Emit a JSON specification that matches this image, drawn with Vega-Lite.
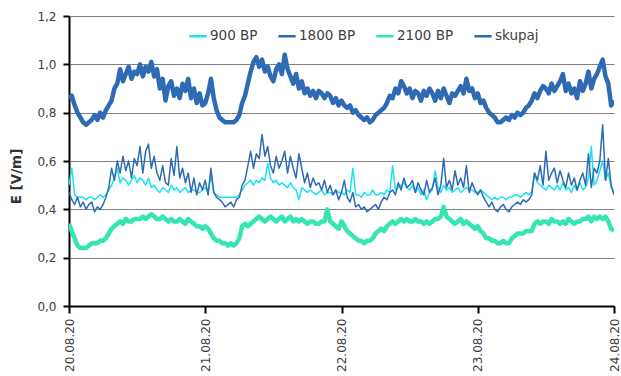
{
"$schema": "https://vega.github.io/schema/vega-lite/v6.json",
"width": 545, "height": 290,
"autosize": {"type": "none"},
"padding": {"left": 69, "top": 16, "right": 7, "bottom": 70},
"background": "white",
"config": {"view": {"stroke": null}, "font": "DejaVu Sans"},
"data": {"values": [
{"t":"2020-08-20T00:00","a":0.50,"b":0.47,"c":0.34,"s":0.86},{"t":"2020-08-20T00:30","a":0.57,"b":0.44,"c":0.31,"s":0.87},
{"t":"2020-08-20T01:00","a":0.46,"b":0.42,"c":0.28,"s":0.83},{"t":"2020-08-20T01:30","a":0.45,"b":0.45,"c":0.25,"s":0.80},
{"t":"2020-08-20T02:00","a":0.45,"b":0.41,"c":0.24,"s":0.78},{"t":"2020-08-20T02:30","a":0.45,"b":0.43,"c":0.24,"s":0.76},
{"t":"2020-08-20T03:00","a":0.44,"b":0.40,"c":0.24,"s":0.75},{"t":"2020-08-20T03:30","a":0.45,"b":0.42,"c":0.25,"s":0.76},
{"t":"2020-08-20T04:00","a":0.45,"b":0.43,"c":0.26,"s":0.77},{"t":"2020-08-20T04:30","a":0.44,"b":0.39,"c":0.26,"s":0.79},
{"t":"2020-08-20T05:00","a":0.45,"b":0.41,"c":0.26,"s":0.77},{"t":"2020-08-20T05:30","a":0.46,"b":0.40,"c":0.27,"s":0.80},
{"t":"2020-08-20T06:00","a":0.45,"b":0.42,"c":0.27,"s":0.78},{"t":"2020-08-20T06:30","a":0.46,"b":0.45,"c":0.28,"s":0.81},
{"t":"2020-08-20T07:00","a":0.48,"b":0.49,"c":0.30,"s":0.83},{"t":"2020-08-20T07:30","a":0.50,"b":0.57,"c":0.32,"s":0.85},
{"t":"2020-08-20T08:00","a":0.53,"b":0.52,"c":0.33,"s":0.90},{"t":"2020-08-20T08:30","a":0.57,"b":0.60,"c":0.34,"s":0.92},
{"t":"2020-08-20T09:00","a":0.51,"b":0.55,"c":0.35,"s":0.98},{"t":"2020-08-20T09:30","a":0.53,"b":0.62,"c":0.34,"s":0.93},
{"t":"2020-08-20T10:00","a":0.52,"b":0.56,"c":0.36,"s":0.96},{"t":"2020-08-20T10:30","a":0.50,"b":0.60,"c":0.35,"s":0.99},
{"t":"2020-08-20T11:00","a":0.52,"b":0.53,"c":0.35,"s":0.94},{"t":"2020-08-20T11:30","a":0.54,"b":0.61,"c":0.36,"s":0.97},
{"t":"2020-08-20T12:00","a":0.51,"b":0.58,"c":0.36,"s":0.96},{"t":"2020-08-20T12:30","a":0.53,"b":0.66,"c":0.36,"s":1.00},
{"t":"2020-08-20T13:00","a":0.52,"b":0.55,"c":0.37,"s":0.95},{"t":"2020-08-20T13:30","a":0.50,"b":0.64,"c":0.36,"s":0.99},
{"t":"2020-08-20T14:00","a":0.53,"b":0.67,"c":0.37,"s":0.97},{"t":"2020-08-20T14:30","a":0.49,"b":0.57,"c":0.38,"s":1.01},
{"t":"2020-08-20T15:00","a":0.50,"b":0.62,"c":0.37,"s":0.95},{"t":"2020-08-20T15:30","a":0.48,"b":0.55,"c":0.36,"s":0.98},
{"t":"2020-08-20T16:00","a":0.47,"b":0.52,"c":0.36,"s":0.90},{"t":"2020-08-20T16:30","a":0.49,"b":0.58,"c":0.37,"s":0.94},
{"t":"2020-08-20T17:00","a":0.48,"b":0.51,"c":0.36,"s":0.85},{"t":"2020-08-20T17:30","a":0.47,"b":0.50,"c":0.35,"s":0.91},
{"t":"2020-08-20T18:00","a":0.50,"b":0.61,"c":0.36,"s":0.93},{"t":"2020-08-20T18:30","a":0.48,"b":0.54,"c":0.35,"s":0.87},
{"t":"2020-08-20T19:00","a":0.49,"b":0.66,"c":0.35,"s":0.90},{"t":"2020-08-20T19:30","a":0.47,"b":0.53,"c":0.36,"s":0.86},
{"t":"2020-08-20T20:00","a":0.48,"b":0.57,"c":0.35,"s":0.92},{"t":"2020-08-20T20:30","a":0.49,"b":0.51,"c":0.34,"s":0.89},
{"t":"2020-08-20T21:00","a":0.47,"b":0.55,"c":0.36,"s":0.94},{"t":"2020-08-20T21:30","a":0.48,"b":0.47,"c":0.35,"s":0.86},
{"t":"2020-08-20T22:00","a":0.48,"b":0.53,"c":0.34,"s":0.90},{"t":"2020-08-20T22:30","a":0.47,"b":0.46,"c":0.33,"s":0.84},
{"t":"2020-08-20T23:00","a":0.47,"b":0.51,"c":0.33,"s":0.88},{"t":"2020-08-20T23:30","a":0.48,"b":0.48,"c":0.32,"s":0.83},
{"t":"2020-08-21T00:00","a":0.49,"b":0.52,"c":0.33,"s":0.84},{"t":"2020-08-21T00:30","a":0.47,"b":0.46,"c":0.32,"s":0.88},
{"t":"2020-08-21T01:00","a":0.54,"b":0.57,"c":0.30,"s":0.94},{"t":"2020-08-21T01:30","a":0.47,"b":0.47,"c":0.28,"s":0.86},
{"t":"2020-08-21T02:00","a":0.46,"b":0.45,"c":0.27,"s":0.81},{"t":"2020-08-21T02:30","a":0.45,"b":0.44,"c":0.27,"s":0.78},
{"t":"2020-08-21T03:00","a":0.45,"b":0.43,"c":0.26,"s":0.77},{"t":"2020-08-21T03:30","a":0.45,"b":0.41,"c":0.26,"s":0.76},
{"t":"2020-08-21T04:00","a":0.45,"b":0.42,"c":0.25,"s":0.76},{"t":"2020-08-21T04:30","a":0.45,"b":0.43,"c":0.26,"s":0.76},
{"t":"2020-08-21T05:00","a":0.45,"b":0.41,"c":0.25,"s":0.76},{"t":"2020-08-21T05:30","a":0.45,"b":0.44,"c":0.26,"s":0.77},
{"t":"2020-08-21T06:00","a":0.46,"b":0.45,"c":0.28,"s":0.79},{"t":"2020-08-21T06:30","a":0.48,"b":0.50,"c":0.33,"s":0.84},
{"t":"2020-08-21T07:00","a":0.50,"b":0.52,"c":0.34,"s":0.87},{"t":"2020-08-21T07:30","a":0.51,"b":0.58,"c":0.33,"s":0.92},
{"t":"2020-08-21T08:00","a":0.52,"b":0.64,"c":0.34,"s":0.97},{"t":"2020-08-21T08:30","a":0.50,"b":0.57,"c":0.35,"s":1.01},
{"t":"2020-08-21T09:00","a":0.52,"b":0.63,"c":0.36,"s":1.03},{"t":"2020-08-21T09:30","a":0.51,"b":0.61,"c":0.37,"s":0.99},
{"t":"2020-08-21T10:00","a":0.53,"b":0.71,"c":0.36,"s":1.02},{"t":"2020-08-21T10:30","a":0.52,"b":0.62,"c":0.35,"s":0.97},
{"t":"2020-08-21T11:00","a":0.59,"b":0.66,"c":0.36,"s":0.99},{"t":"2020-08-21T11:30","a":0.53,"b":0.58,"c":0.37,"s":0.95},
{"t":"2020-08-21T12:00","a":0.51,"b":0.55,"c":0.36,"s":0.93},{"t":"2020-08-21T12:30","a":0.52,"b":0.62,"c":0.35,"s":0.98},
{"t":"2020-08-21T13:00","a":0.50,"b":0.57,"c":0.36,"s":1.00},{"t":"2020-08-21T13:30","a":0.51,"b":0.60,"c":0.37,"s":0.96},
{"t":"2020-08-21T14:00","a":0.50,"b":0.64,"c":0.35,"s":1.04},{"t":"2020-08-21T14:30","a":0.49,"b":0.55,"c":0.36,"s":0.98},
{"t":"2020-08-21T15:00","a":0.51,"b":0.62,"c":0.37,"s":0.95},{"t":"2020-08-21T15:30","a":0.49,"b":0.57,"c":0.35,"s":0.92},
{"t":"2020-08-21T16:00","a":0.48,"b":0.53,"c":0.36,"s":0.96},{"t":"2020-08-21T16:30","a":0.44,"b":0.63,"c":0.35,"s":0.90},
{"t":"2020-08-21T17:00","a":0.49,"b":0.57,"c":0.36,"s":0.93},{"t":"2020-08-21T17:30","a":0.48,"b":0.51,"c":0.35,"s":0.88},
{"t":"2020-08-21T18:00","a":0.47,"b":0.55,"c":0.34,"s":0.90},{"t":"2020-08-21T18:30","a":0.48,"b":0.49,"c":0.35,"s":0.87},
{"t":"2020-08-21T19:00","a":0.47,"b":0.53,"c":0.35,"s":0.89},{"t":"2020-08-21T19:30","a":0.46,"b":0.50,"c":0.34,"s":0.86},
{"t":"2020-08-21T20:00","a":0.47,"b":0.51,"c":0.34,"s":0.89},{"t":"2020-08-21T20:30","a":0.48,"b":0.48,"c":0.35,"s":0.88},
{"t":"2020-08-21T21:00","a":0.46,"b":0.52,"c":0.35,"s":0.86},{"t":"2020-08-21T21:30","a":0.47,"b":0.47,"c":0.40,"s":0.88},
{"t":"2020-08-21T22:00","a":0.47,"b":0.50,"c":0.35,"s":0.87},{"t":"2020-08-21T22:30","a":0.46,"b":0.46,"c":0.34,"s":0.84},
{"t":"2020-08-21T23:00","a":0.48,"b":0.48,"c":0.33,"s":0.86},{"t":"2020-08-21T23:30","a":0.47,"b":0.44,"c":0.32,"s":0.83},
{"t":"2020-08-22T00:00","a":0.47,"b":0.47,"c":0.35,"s":0.85},{"t":"2020-08-22T00:30","a":0.46,"b":0.52,"c":0.33,"s":0.83},
{"t":"2020-08-22T01:00","a":0.48,"b":0.45,"c":0.31,"s":0.82},{"t":"2020-08-22T01:30","a":0.47,"b":0.43,"c":0.30,"s":0.83},
{"t":"2020-08-22T02:00","a":0.57,"b":0.47,"c":0.29,"s":0.80},{"t":"2020-08-22T02:30","a":0.46,"b":0.41,"c":0.28,"s":0.81},
{"t":"2020-08-22T03:00","a":0.46,"b":0.42,"c":0.27,"s":0.79},{"t":"2020-08-22T03:30","a":0.45,"b":0.40,"c":0.27,"s":0.78},
{"t":"2020-08-22T04:00","a":0.47,"b":0.41,"c":0.26,"s":0.77},{"t":"2020-08-22T04:30","a":0.46,"b":0.39,"c":0.27,"s":0.78},
{"t":"2020-08-22T05:00","a":0.46,"b":0.40,"c":0.27,"s":0.76},{"t":"2020-08-22T05:30","a":0.48,"b":0.41,"c":0.28,"s":0.77},
{"t":"2020-08-22T06:00","a":0.46,"b":0.42,"c":0.30,"s":0.79},{"t":"2020-08-22T06:30","a":0.46,"b":0.40,"c":0.31,"s":0.80},
{"t":"2020-08-22T07:00","a":0.47,"b":0.43,"c":0.32,"s":0.81},{"t":"2020-08-22T07:30","a":0.46,"b":0.45,"c":0.31,"s":0.82},
{"t":"2020-08-22T08:00","a":0.48,"b":0.44,"c":0.33,"s":0.84},{"t":"2020-08-22T08:30","a":0.47,"b":0.47,"c":0.34,"s":0.87},
{"t":"2020-08-22T09:00","a":0.58,"b":0.48,"c":0.35,"s":0.86},{"t":"2020-08-22T09:30","a":0.48,"b":0.46,"c":0.34,"s":0.90},
{"t":"2020-08-22T10:00","a":0.49,"b":0.51,"c":0.35,"s":0.88},{"t":"2020-08-22T10:30","a":0.50,"b":0.48,"c":0.36,"s":0.93},
{"t":"2020-08-22T11:00","a":0.51,"b":0.53,"c":0.35,"s":0.91},{"t":"2020-08-22T11:30","a":0.49,"b":0.49,"c":0.36,"s":0.88},
{"t":"2020-08-22T12:00","a":0.48,"b":0.50,"c":0.35,"s":0.90},{"t":"2020-08-22T12:30","a":0.50,"b":0.52,"c":0.35,"s":0.86},
{"t":"2020-08-22T13:00","a":0.47,"b":0.47,"c":0.36,"s":0.89},{"t":"2020-08-22T13:30","a":0.49,"b":0.51,"c":0.35,"s":0.88},
{"t":"2020-08-22T14:00","a":0.46,"b":0.48,"c":0.35,"s":0.85},{"t":"2020-08-22T14:30","a":0.48,"b":0.46,"c":0.34,"s":0.89},
{"t":"2020-08-22T15:00","a":0.44,"b":0.52,"c":0.35,"s":0.87},{"t":"2020-08-22T15:30","a":0.47,"b":0.47,"c":0.34,"s":0.90},
{"t":"2020-08-22T16:00","a":0.48,"b":0.49,"c":0.35,"s":0.88},{"t":"2020-08-22T16:30","a":0.56,"b":0.53,"c":0.36,"s":0.85},
{"t":"2020-08-22T17:00","a":0.49,"b":0.46,"c":0.36,"s":0.89},{"t":"2020-08-22T17:30","a":0.47,"b":0.50,"c":0.37,"s":0.86},
{"t":"2020-08-22T18:00","a":0.50,"b":0.61,"c":0.41,"s":0.90},{"t":"2020-08-22T18:30","a":0.48,"b":0.49,"c":0.37,"s":0.87},
{"t":"2020-08-22T19:00","a":0.49,"b":0.52,"c":0.36,"s":0.84},{"t":"2020-08-22T19:30","a":0.47,"b":0.48,"c":0.35,"s":0.88},
{"t":"2020-08-22T20:00","a":0.48,"b":0.56,"c":0.34,"s":0.87},{"t":"2020-08-22T20:30","a":0.49,"b":0.50,"c":0.35,"s":0.89},
{"t":"2020-08-22T21:00","a":0.47,"b":0.53,"c":0.36,"s":0.91},{"t":"2020-08-22T21:30","a":0.48,"b":0.49,"c":0.34,"s":0.88},
{"t":"2020-08-22T22:00","a":0.49,"b":0.58,"c":0.35,"s":0.94},{"t":"2020-08-22T22:30","a":0.48,"b":0.47,"c":0.34,"s":0.89},
{"t":"2020-08-22T23:00","a":0.48,"b":0.51,"c":0.33,"s":0.90},{"t":"2020-08-22T23:30","a":0.47,"b":0.48,"c":0.32,"s":0.86},
{"t":"2020-08-23T00:00","a":0.47,"b":0.46,"c":0.33,"s":0.88},{"t":"2020-08-23T00:30","a":0.48,"b":0.48,"c":0.31,"s":0.84},
{"t":"2020-08-23T01:00","a":0.47,"b":0.45,"c":0.30,"s":0.85},{"t":"2020-08-23T01:30","a":0.46,"b":0.43,"c":0.28,"s":0.82},
{"t":"2020-08-23T02:00","a":0.45,"b":0.41,"c":0.28,"s":0.80},{"t":"2020-08-23T02:30","a":0.44,"b":0.43,"c":0.27,"s":0.79},
{"t":"2020-08-23T03:00","a":0.45,"b":0.40,"c":0.27,"s":0.78},{"t":"2020-08-23T03:30","a":0.44,"b":0.39,"c":0.26,"s":0.76},
{"t":"2020-08-23T04:00","a":0.45,"b":0.41,"c":0.26,"s":0.76},{"t":"2020-08-23T04:30","a":0.45,"b":0.42,"c":0.27,"s":0.77},
{"t":"2020-08-23T05:00","a":0.44,"b":0.40,"c":0.26,"s":0.78},{"t":"2020-08-23T05:30","a":0.45,"b":0.39,"c":0.26,"s":0.77},
{"t":"2020-08-23T06:00","a":0.45,"b":0.41,"c":0.28,"s":0.79},{"t":"2020-08-23T06:30","a":0.46,"b":0.42,"c":0.29,"s":0.78},
{"t":"2020-08-23T07:00","a":0.46,"b":0.43,"c":0.30,"s":0.80},{"t":"2020-08-23T07:30","a":0.45,"b":0.42,"c":0.30,"s":0.79},
{"t":"2020-08-23T08:00","a":0.46,"b":0.44,"c":0.30,"s":0.80},{"t":"2020-08-23T08:30","a":0.47,"b":0.43,"c":0.31,"s":0.82},
{"t":"2020-08-23T09:00","a":0.46,"b":0.44,"c":0.31,"s":0.83},{"t":"2020-08-23T09:30","a":0.47,"b":0.46,"c":0.31,"s":0.85},
{"t":"2020-08-23T10:00","a":0.55,"b":0.55,"c":0.34,"s":0.88},{"t":"2020-08-23T10:30","a":0.51,"b":0.52,"c":0.35,"s":0.86},
{"t":"2020-08-23T11:00","a":0.50,"b":0.58,"c":0.34,"s":0.89},{"t":"2020-08-23T11:30","a":0.49,"b":0.50,"c":0.35,"s":0.91},
{"t":"2020-08-23T12:00","a":0.48,"b":0.64,"c":0.35,"s":0.90},{"t":"2020-08-23T12:30","a":0.50,"b":0.52,"c":0.34,"s":0.88},
{"t":"2020-08-23T13:00","a":0.49,"b":0.55,"c":0.36,"s":0.92},{"t":"2020-08-23T13:30","a":0.48,"b":0.57,"c":0.35,"s":0.89},
{"t":"2020-08-23T14:00","a":0.50,"b":0.51,"c":0.35,"s":0.91},{"t":"2020-08-23T14:30","a":0.48,"b":0.56,"c":0.34,"s":0.93},
{"t":"2020-08-23T15:00","a":0.51,"b":0.52,"c":0.35,"s":0.96},{"t":"2020-08-23T15:30","a":0.48,"b":0.49,"c":0.34,"s":0.89},
{"t":"2020-08-23T16:00","a":0.49,"b":0.55,"c":0.36,"s":0.92},{"t":"2020-08-23T16:30","a":0.47,"b":0.50,"c":0.35,"s":0.88},
{"t":"2020-08-23T17:00","a":0.50,"b":0.53,"c":0.34,"s":0.90},{"t":"2020-08-23T17:30","a":0.48,"b":0.48,"c":0.35,"s":0.86},
{"t":"2020-08-23T18:00","a":0.51,"b":0.52,"c":0.35,"s":0.93},{"t":"2020-08-23T18:30","a":0.48,"b":0.55,"c":0.36,"s":0.89},
{"t":"2020-08-23T19:00","a":0.49,"b":0.50,"c":0.36,"s":0.92},{"t":"2020-08-23T19:30","a":0.53,"b":0.63,"c":0.37,"s":0.97},
{"t":"2020-08-23T20:00","a":0.66,"b":0.49,"c":0.35,"s":0.90},{"t":"2020-08-23T20:30","a":0.50,"b":0.57,"c":0.37,"s":0.94},
{"t":"2020-08-23T21:00","a":0.52,"b":0.55,"c":0.36,"s":0.96},{"t":"2020-08-23T21:30","a":0.56,"b":0.60,"c":0.37,"s":0.99},
{"t":"2020-08-23T22:00","a":0.60,"b":0.75,"c":0.36,"s":1.02},{"t":"2020-08-23T22:30","a":0.52,"b":0.52,"c":0.37,"s":0.95},
{"t":"2020-08-23T23:00","a":0.55,"b":0.61,"c":0.35,"s":0.92},{"t":"2020-08-23T23:30","a":0.49,"b":0.50,"c":0.32,"s":0.83},
{"t":"2020-08-24T00:00","a":0.47,"b":0.46,"c":0.31,"s":0.85}
]},
"transform": [{"fold": ["a", "b", "c", "s"], "as": ["k", "v"]}],
"encoding": {
  "x": {"field": "t", "type": "temporal",
    "scale": {"domain": [{"year": 2020, "month": 8, "date": 20}, {"year": 2020, "month": 8, "date": 24}], "nice": false},
    "axis": {"title": null,
      "values": [{"year": 2020, "month": 8, "date": 20}, {"year": 2020, "month": 8, "date": 21}, {"year": 2020, "month": 8, "date": 22}, {"year": 2020, "month": 8, "date": 23}, {"year": 2020, "month": 8, "date": 24}],
      "format": "%d.%m.%y", "labelAngle": -90, "labelAlign": "right", "labelBaseline": "middle",
      "labelPadding": 5, "tickSize": 7, "tickColor": "black", "tickWidth": 2,
      "domainColor": "black", "domainWidth": 2, "grid": false,
      "labelFontSize": 12, "labelColor": "#404040", "labelFlush": false, "labelOverlap": false}},
  "y": {"field": "v", "type": "quantitative",
    "scale": {"domain": [0, 1.2], "nice": false},
    "axis": {"title": "E [V/m]", "values": [0, 0.2, 0.4, 0.6, 0.8, 1, 1.2],
      "labelExpr": "replace(format(datum.value, '.1f'), '.', ',')",
      "tickSize": 6, "tickColor": "black", "tickWidth": 2, "domainColor": "black", "domainWidth": 2,
      "gridColor": "#808080", "gridWidth": 1,
      "labelFontSize": 12, "labelColor": "#404040", "labelPadding": 7,
      "titleFontSize": 13.5, "titleFontWeight": "bold", "titleColor": "#333333", "titlePadding": 13, "titleY": 160}},
  "color": {"field": "k", "type": "nominal",
    "scale": {"domain": ["a", "b", "c", "s"], "range": ["#1CE3F0", "#2F6BB5", "#35E6B2", "#2F6BB5"]},
    "legend": {"title": null, "orient": "none", "legendX": 119, "legendY": 10, "direction": "horizontal",
      "symbolType": "stroke", "symbolSize": 300, "symbolStrokeWidth": 2.5,
      "labelFontSize": 13.5, "labelColor": "#404040", "columnPadding": 15, "labelOffset": 2,
      "labelExpr": "datum.label == 'a' ? '900 BP' : datum.label == 'b' ? '1800 BP' : datum.label == 'c' ? '2100 BP' : 'skupaj'"}}
},
"layer": [
  {"transform": [{"filter": {"field": "k", "oneOf": ["a", "b"]}}],
   "mark": {"type": "line", "strokeJoin": "round", "strokeWidth": 1.5, "clip": true}},
  {"transform": [{"filter": {"field": "k", "oneOf": ["c", "s"]}}],
   "mark": {"type": "line", "strokeJoin": "round", "strokeWidth": 4.5, "clip": true}}
]
}
